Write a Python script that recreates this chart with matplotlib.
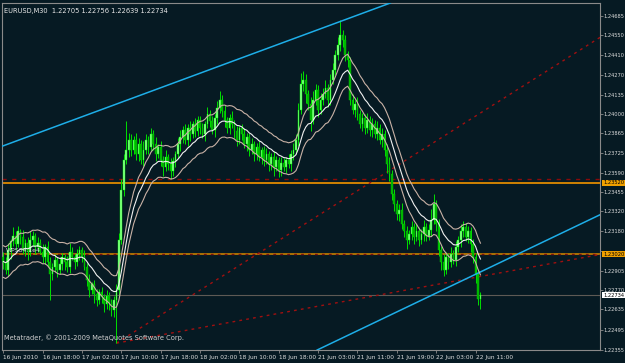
import matplotlib
matplotlib.use('Agg')
import matplotlib.pyplot as plt
import numpy as np
import pandas as pd

plt.rcParams['font.family'] = ['Liberation Sans Narrow', 'DejaVu Sans']

# EURUSD M30 closes, one per bar
close = [
    1.2297, 1.2291, 1.2305, 1.2311, 1.2315, 1.2309, 1.2318, 1.2314, 1.2305, 1.2310,
    1.2304, 1.2312, 1.2315, 1.2307, 1.2310, 1.2304, 1.2300, 1.2307, 1.2297, 1.2288,
    1.2293, 1.2298, 1.2291, 1.2295, 1.2300, 1.2297, 1.2293, 1.2304, 1.2300, 1.2297,
    1.2302, 1.2305, 1.2300, 1.2293, 1.2284, 1.2277, 1.2281, 1.2274, 1.2270, 1.2276,
    1.2272, 1.2267, 1.2273, 1.2269, 1.2263, 1.2270, 1.2277, 1.2312, 1.2347, 1.2368,
    1.2375, 1.2382, 1.2375, 1.2382, 1.2372, 1.2379, 1.2368, 1.2375, 1.2382, 1.2377,
    1.2386, 1.2379, 1.2372, 1.2377, 1.2368, 1.2363, 1.2370, 1.2365, 1.2360, 1.2367,
    1.2372, 1.2379, 1.2384, 1.2389, 1.2382, 1.2390, 1.2386, 1.2393, 1.2388, 1.2396,
    1.2390, 1.2386, 1.2393, 1.2400, 1.2395, 1.2389, 1.2397, 1.2404, 1.2410, 1.2402,
    1.2396, 1.2390, 1.2397, 1.2393, 1.2388, 1.2382, 1.2390, 1.2386, 1.2379, 1.2384,
    1.2375, 1.2379, 1.2372, 1.2377, 1.2370, 1.2375, 1.2368, 1.2372, 1.2365, 1.2370,
    1.2363, 1.2368, 1.2361, 1.2366, 1.2363, 1.2368, 1.2365, 1.2372, 1.2375, 1.2382,
    1.2403, 1.2421, 1.2424, 1.2414, 1.2407, 1.2396, 1.2410, 1.2417, 1.2403, 1.2410,
    1.2414, 1.2418, 1.2410, 1.2424, 1.2431, 1.2441, 1.2448, 1.2455, 1.2452, 1.2441,
    1.2438, 1.2410, 1.2403, 1.2407, 1.2400, 1.2393, 1.2397, 1.2390, 1.2396, 1.2389,
    1.2393, 1.2386, 1.2390, 1.2382, 1.2386, 1.2375, 1.2365, 1.2358, 1.2344, 1.2337,
    1.2330, 1.2333, 1.2323, 1.2318, 1.2312, 1.2316, 1.2321, 1.2314, 1.2318, 1.2312,
    1.2316, 1.2321, 1.2315, 1.2319, 1.2326, 1.2337, 1.2323, 1.2305, 1.2297, 1.2291,
    1.2300, 1.2297, 1.2302, 1.2298, 1.2307, 1.2312, 1.2318, 1.2321, 1.2314, 1.2318,
    1.2309, 1.2300, 1.2288, 1.22705, 1.22734,
]
first_open = 1.2300

# wick lengths in pips above / below the body
wick_up = [
    4, 3, 5, 2, 6, 3, 4, 2, 5, 3,   4, 6, 3, 2, 4, 3, 5, 2, 4, 3,
    3, 4, 2, 5, 3, 2, 4, 6, 3, 2,   4, 3, 2, 5, 3, 4, 2, 3, 4, 2,
    3, 2, 4, 3, 2, 3, 4, 5, 8, 4,   20, 5, 4, 3, 5, 4, 3, 6, 4, 3,
    4, 3, 5, 2, 4, 3, 5, 2, 4, 3,   2, 4, 5, 3, 4, 3, 5, 2, 4, 3,
    3, 4, 2, 5, 3, 4, 3, 5, 6, 3,   4, 2, 3, 5, 3, 4, 2, 3, 4, 3,
    3, 4, 2, 3, 4, 2, 3, 4, 2, 3,   4, 3, 2, 4, 3, 2, 4, 3, 5, 4,
    5, 8, 6, 4, 3, 5, 6, 4, 3, 5,   4, 6, 3, 4, 5, 4, 6, 11, 4, 3,
    3, 2, 4, 3, 5, 3, 4, 3, 5, 3,   4, 3, 5, 3, 4, 3, 4, 5, 3, 4,
    3, 4, 5, 3, 4, 3, 4, 3, 5, 3,   4, 5, 3, 4, 8, 7, 3, 4, 3, 5,
    4, 3, 5, 3, 4, 3, 5, 4, 3, 4,   3, 4, 3, 4, 2,
]
wick_dn = [
    5, 3, 4, 6, 3, 4, 2, 5, 3, 4,   6, 3, 4, 5, 3, 2, 4, 5, 3, 18,
    4, 3, 5, 3, 4, 6, 3, 4, 2, 5,   3, 4, 3, 2, 4, 5, 3, 6, 4, 3,
    4, 5, 3, 6, 4, 5, 30, 4, 3, 4,  3, 5, 4, 3, 4, 5, 3, 4, 3, 5,
    3, 4, 5, 3, 4, 6, 3, 4, 5, 3,   4, 3, 5, 4, 3, 4, 5, 3, 4, 3,
    4, 3, 5, 3, 4, 3, 5, 4, 3, 4,   5, 3, 4, 3, 5, 4, 3, 4, 3, 5,
    4, 3, 5, 4, 3, 5, 4, 3, 5, 4,   6, 3, 5, 4, 3, 4, 3, 5, 4, 3,
    4, 3, 5, 6, 4, 8, 3, 4, 5, 3,   4, 3, 5, 4, 3, 4, 3, 4, 5, 4,
    5, 4, 3, 5, 4, 3, 5, 4, 3, 4,   5, 3, 4, 3, 5, 4, 6, 5, 4, 5,
    4, 5, 3, 4, 6, 3, 4, 5, 3, 4,   3, 5, 4, 3, 4, 3, 5, 4, 6, 4,
    3, 5, 4, 3, 4, 3, 5, 4, 3, 4,   5, 4, 6, 4, 7,
]

time_labels = ['16 Jun 2010', '16 Jun 18:00', '17 Jun 02:00', '17 Jun 10:00',
               '17 Jun 18:00', '18 Jun 02:00', '18 Jun 10:00', '18 Jun 18:00',
               '21 Jun 03:00', '21 Jun 11:00', '21 Jun 19:00', '22 Jun 03:00',
               '22 Jun 11:00']
time_label_bars = [0, 16, 32, 48, 64, 80, 96, 112, 128, 144, 160, 176, 192]

price_ticks = [1.22355, 1.22495, 1.22635, 1.22770, 1.22905, 1.23045, 1.23180,
               1.23320, 1.23455, 1.23590, 1.23725, 1.23865, 1.24000, 1.24135,
               1.24270, 1.24410, 1.24550, 1.24685]

# objects drawn on the chart (bar index, price)
blue_upper = [(-1.3, 1.2377), (158.0, 1.2478)]
blue_lower = [(128.0, 1.22355), (243.0, 1.2330)]
red_steep = [(46.0, 1.2240), (243.0, 1.2454)]
red_flat = [(46.0, 1.2240), (243.0, 1.2302)]
level_high = 1.23520
level_low = 1.23020
bid = 1.22734

BG = '#061a23'
pip = 0.0001

assert len(close) == len(wick_up) == len(wick_dn)
c = np.array(close)
o = np.r_[first_open, c[:-1]]
h = np.maximum(o, c) + np.array(wick_up) * pip
l = np.minimum(o, c) - np.array(wick_dn) * pip
idx = np.arange(len(c))

ma = pd.Series(c).ewm(span=14, adjust=False).mean().values
env = 0.0009

fig = plt.figure(figsize=(6.25, 3.63), dpi=100, facecolor=BG)
ax = fig.add_axes([2 / 625, 13 / 363, 598 / 625, 347 / 363], facecolor=BG)
ax.set_xlim(-0.5, 242.6)
ax.set_ylim(1.22352, 1.24776)

# levels and trendlines under the candles
ax.axhline(level_high, color='#e08a00', lw=1.3, zorder=1)
ax.axhline(level_high + 0.00025, color='#8b0a0a', lw=1.0, ls=(0, (3, 4)), zorder=1)
ax.axhline(level_low, color='#c88000', lw=1.2, zorder=1)
ax.axhline(level_low, color='#7a1010', lw=1.0, ls=(0, (2, 3)), zorder=1)
ax.axhline(bid, color='#5e5a55', lw=0.8, zorder=1)

for seg in (red_steep, red_flat):
    ax.plot([seg[0][0], seg[1][0]], [seg[0][1], seg[1][1]],
            color='#a01010', lw=1.0, ls=(0, (2, 3)), zorder=1)

for seg in (blue_upper, blue_lower):
    ax.axline(seg[0], seg[1], color='#1eaee8', lw=1.1, zorder=4)

# candles
up = c >= o
ax.vlines(idx, l, h, color='#00e000', lw=0.7, zorder=2)
body_lo = np.minimum(o, c)
body_h = np.maximum(np.abs(c - o), 0.00003)
ax.bar(idx[up], body_h[up], bottom=body_lo[up], width=0.7,
       color='#8cff8c', edgecolor='#00ff00', lw=0.3, zorder=3)
ax.bar(idx[~up], body_h[~up], bottom=body_lo[~up], width=0.7,
       color='#00b000', edgecolor='#00d000', lw=0.3, zorder=3)

# moving average with envelopes
ax.plot(idx, ma, color='#f0f0f0', lw=0.8, zorder=5)
ax.plot(idx, ma * (1 + env), color='#c9b2a6', lw=0.8, zorder=5)
ax.plot(idx, ma * (1 - env), color='#c9b2a6', lw=0.8, zorder=5)

# axes styling
for s in ax.spines.values():
    s.set_color('#8a8a8a')
    s.set_linewidth(0.8)
ax.yaxis.tick_right()
ax.set_yticks(price_ticks)
# the 1.23045 label sits under the orange level tag, as in MetaTrader
ax.set_yticklabels(['' if abs(v - level_low) < 0.0003 else '%.5f' % v
                    for v in price_ticks])
ax.set_xticks(time_label_bars)
ax.set_xticklabels(time_labels)
for lbl in ax.get_xticklabels():
    lbl.set_ha('left')
ax.tick_params(colors='#8a8a8a', labelcolor='#dcdcdc', labelsize=4.2,
               length=2.5, width=0.6, pad=0.8)
ax.tick_params(axis='y', labelsize=3.7, length=2, pad=0.6)

# right-side price tags
tr = ax.get_yaxis_transform()
for val, fc in ((level_high, '#f0a000'), (level_low, '#f0a000'), (bid, '#ffffff')):
    ax.text(1.005, val, '%.5f' % val, transform=tr, fontsize=3.7, color='black',
            va='center', ha='left', zorder=10, clip_on=False,
            bbox=dict(boxstyle='square,pad=0.12', fc=fc, ec='none'))

ax.text(0.004, 0.985, 'EURUSD,M30  1.22705 1.22756 1.22639 1.22734',
        transform=ax.transAxes, fontsize=4.8, color='#e8e8e8', va='top', ha='left')
ax.text(0.003, 0.035, 'Metatrader, \u00a9 2001-2009 MetaQuotes Software Corp.',
        transform=ax.transAxes, fontsize=4.8, color='#d0d0d0', va='center', ha='left')
ax.text(1.0, level_low + 0.00012, 'WPS34.1e4', transform=ax.transData,
        fontsize=4.4, color='#e0e0e0', va='bottom', ha='left', zorder=6)

fig.savefig('out.png', dpi=100, facecolor=BG)
